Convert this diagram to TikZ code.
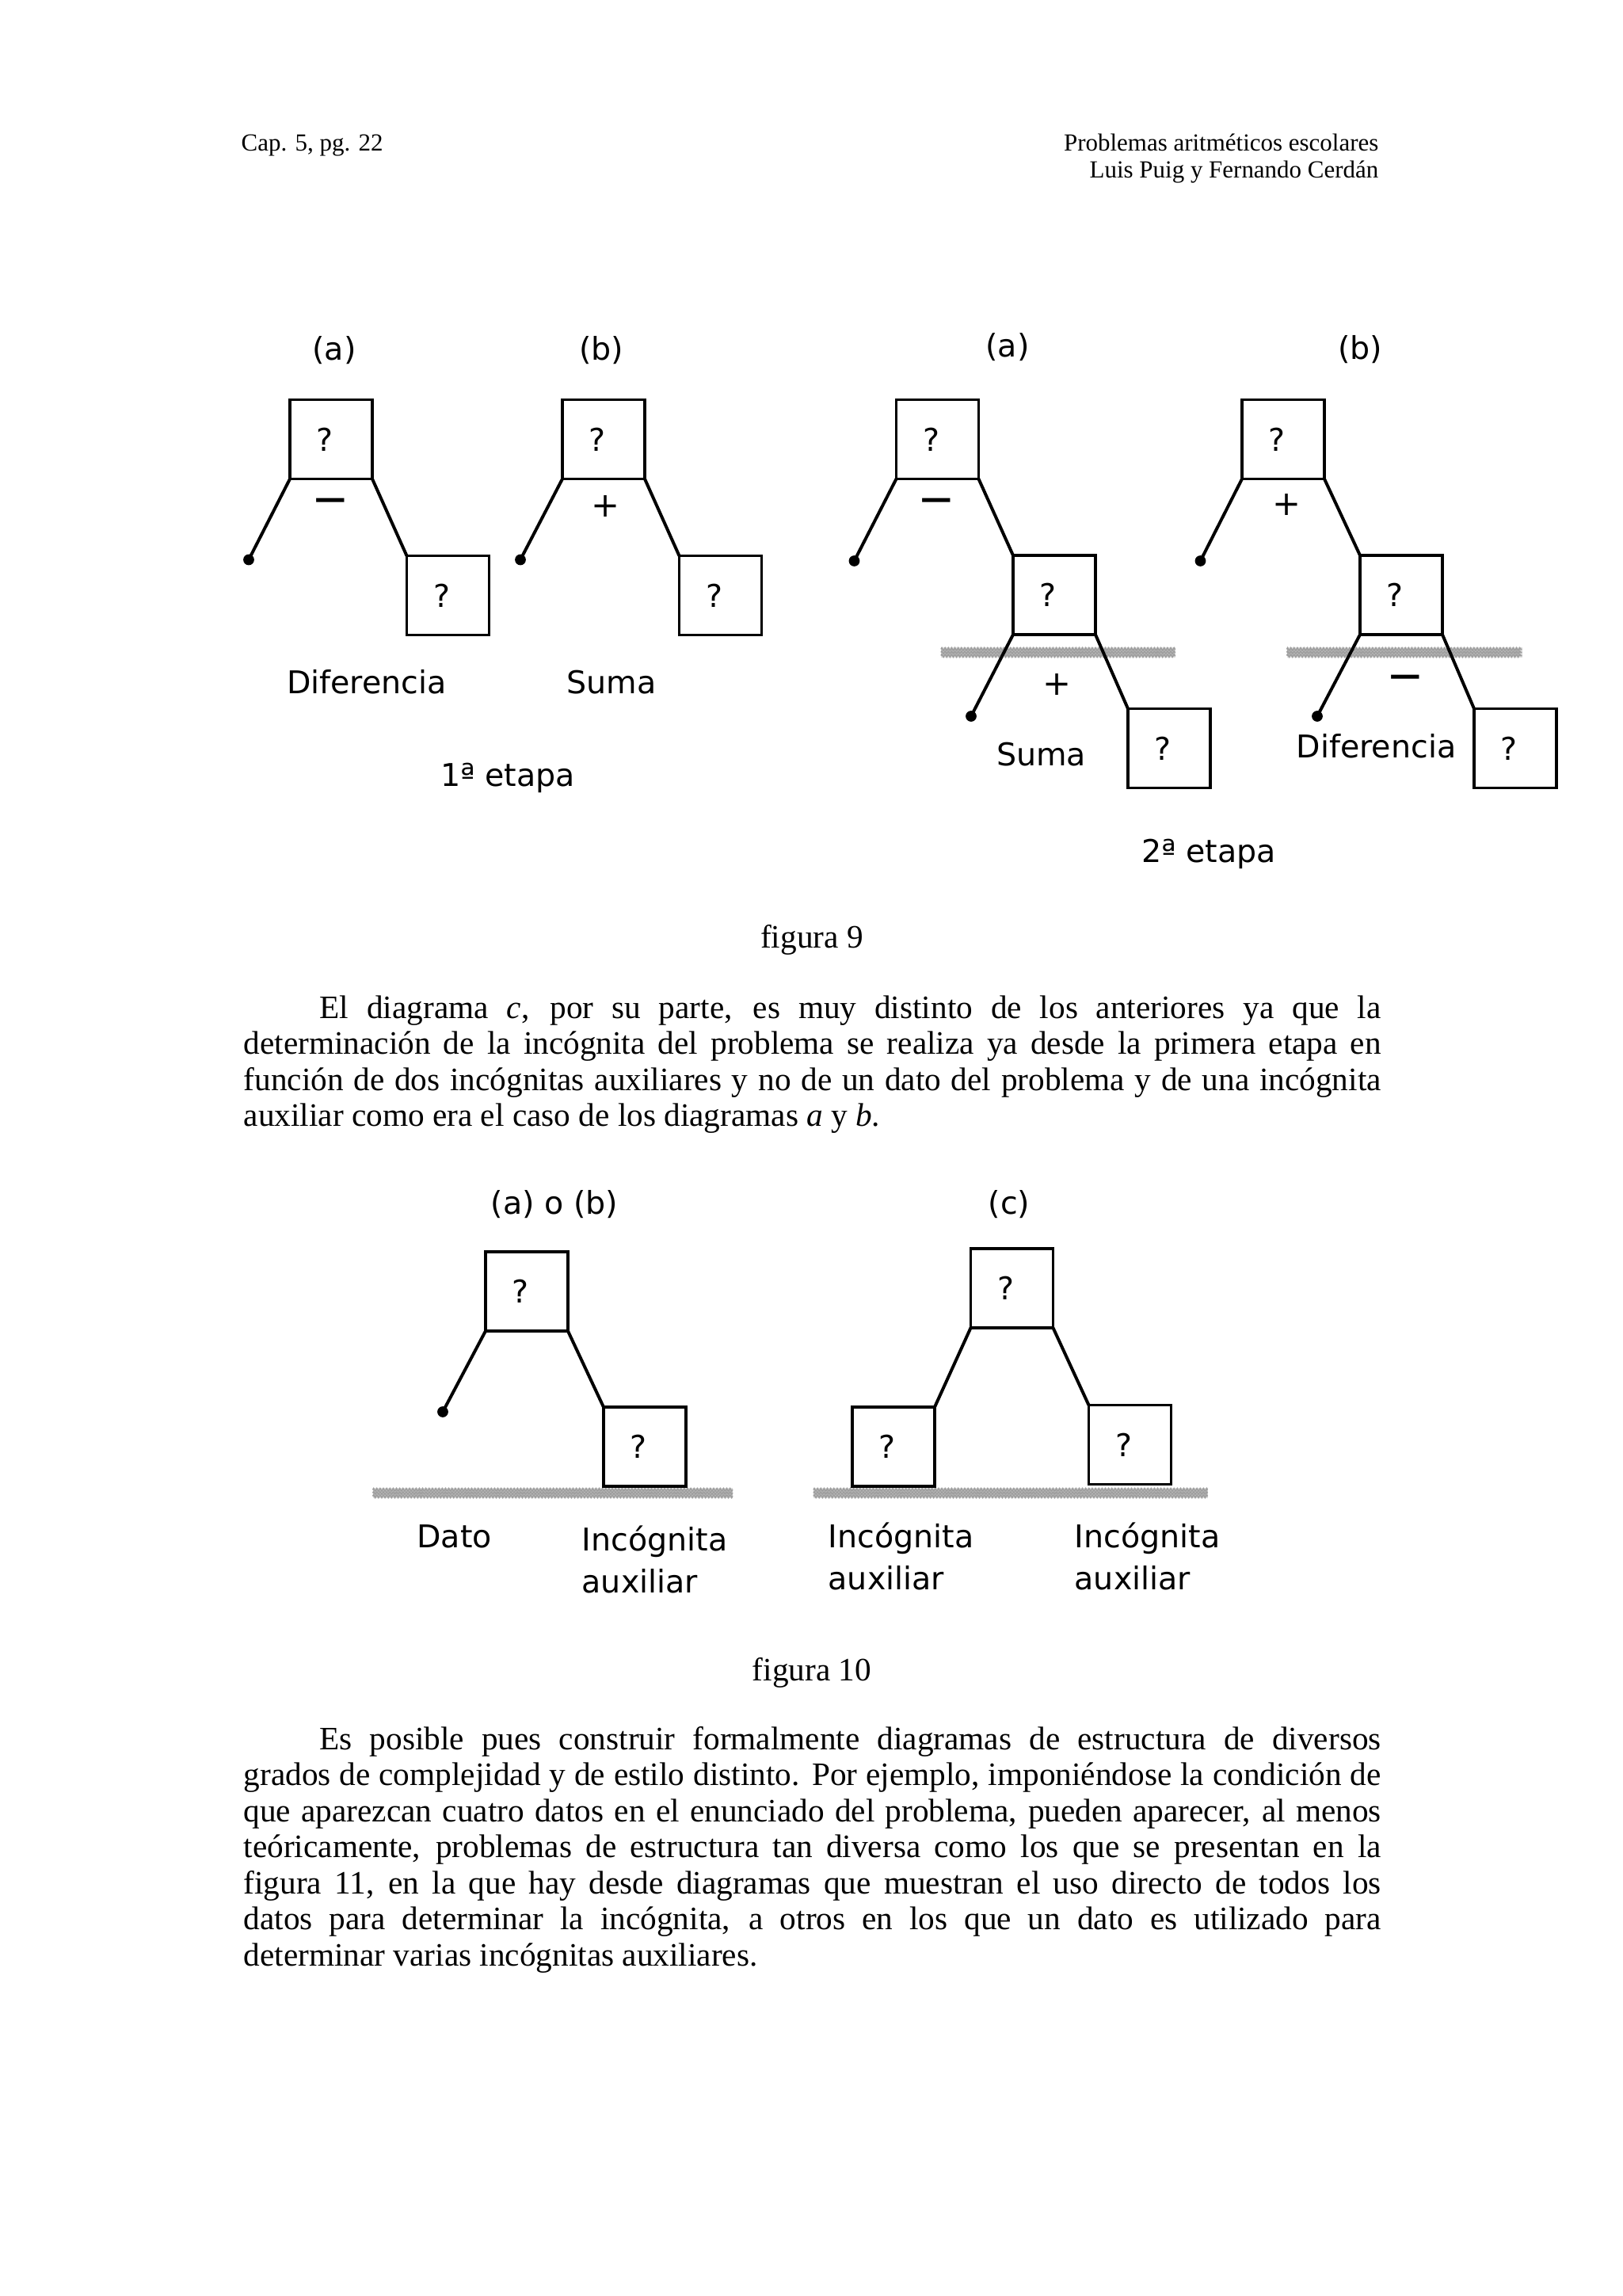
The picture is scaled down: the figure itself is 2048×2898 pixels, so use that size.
\documentclass[tikz,border=0pt]{standalone}
\usepackage{fontspec}
\setmainfont{Liberation Serif}
\newfontfamily\diagfont{DejaVu Sans}
\usetikzlibrary{decorations.pathmorphing}
\newcommand\groundbar[3]{%
  \fill[gray!25] (#1,#3) rectangle (#2,#3+13);
  \foreach \dy in {2.5,6.5,10.5}{%
    \draw[gray!75, line width=0.5pt, decorate, decoration={zigzag, segment length=1.2pt, amplitude=0.5pt}] (#1,#3+\dy) -- (#2,#3+\dy);}%
}
\newcommand\qm{?\kern4.5pt\relax}
\begin{document}
\begin{tikzpicture}[x=0.290664pt,y=-0.290664pt,
  qbox/.style={draw, line width=1pt, minimum width=30.2pt, minimum height=29pt, inner sep=0pt, outer sep=0pt, font=\diagfont\fontsize{11.5pt}{13pt}\selectfont},
  dotn/.style={circle, fill, inner sep=0pt, outer sep=0pt, minimum size=4pt},
  conn/.style={line width=1.15pt},
  lbl/.style={font=\diagfont\fontsize{11.5pt}{13pt}\selectfont, inner sep=0pt, anchor=base},
  lblw/.style={lbl, anchor=base west},
  plusn/.style={font=\diagfont\fontsize{12.5pt}{13pt}\selectfont, inner sep=0pt},
  minusn/.style={font=\diagfont\bfseries\fontsize{11.5pt}{12pt}\selectfont, inner sep=0pt},
  hdr/.style={font=\fontsize{9pt}{10pt}\selectfont, inner sep=0pt},
  bodyt/.style={font=\fontsize{12pt}{13.25pt}\selectfont, inner sep=0pt},
  para/.style={bodyt, text width=417.4pt, align=justify, anchor=base west}
]
\useasboundingbox (0,0) rectangle (2048,2898);
\fill[white] (0,0) rectangle (2048,2898);

% header
\node[hdr, anchor=base west] (cap) at (304,190) {Cap. 5, pg. 22};
\node[hdr, anchor=base east] (tit) at (1741,190) {Problemas aritméticos escolares};
\node[hdr, anchor=base east] (aut) at (1741,224) {Luis Puig y Fernando Cerdán};

% ---------- figura 9, 1a etapa ----------
\node[lbl] (la) at (422,454) {(a)};
\node[lbl] (lb) at (759,454) {(b)};
\node[qbox] (a1) at (418,554.5) {\qm};
\node[qbox] (a2) at (565.5,751.5) {\qm};
\node[dotn] (da) at (314,706.5) {};
\draw[conn] (a1.south west) -- (da.center);
\draw[conn] (a1.south east) -- (a2.north west);
\node[minusn] (ma) at (417,636) {—};
\node[qbox] (b1) at (762,554.5) {\qm};
\node[qbox] (b2) at (909.5,751.5) {\qm};
\node[dotn] (db) at (657,706.5) {};
\draw[conn] (b1.south west) -- (db.center);
\draw[conn] (b1.south east) -- (b2.north west);
\node[plusn] (pb) at (765,639) {+};
\node[lbl] (dif1) at (463,875) {Diferencia};
\node[lbl] (sum1) at (772,875) {Suma};
\node[lbl] (et1) at (641,992) {1ª etapa};

% ---------- figura 9, 2a etapa ----------
\node[lbl] (ra) at (1272,450) {(a)};
\node[lbl] (rb) at (1717,453) {(b)};
\groundbar{1188}{1484}{817}
\groundbar{1624.5}{1921.5}{817}
% (a)
\node[qbox] (A1) at (1183.5,554.5) {\qm};
\node[qbox] (A2) at (1331,751) {\qm};
\node[qbox] (A3) at (1476,944.5) {\qm};
\node[dotn] (dA1) at (1078.5,708) {};
\node[dotn] (dA2) at (1226,904) {};
\draw[conn] (A1.south west) -- (dA1.center);
\draw[conn] (A1.south east) -- (A2.north west);
\draw[conn] (A2.south west) -- (dA2.center);
\draw[conn] (A2.south east) -- (A3.north west);
\node[minusn] (mA) at (1182.5,636) {—};
\node[plusn] (pA) at (1335,864) {+};
\node[lbl] (sum2) at (1314.5,966) {Suma};
% (b)
\node[qbox] (B1) at (1620,554.5) {\qm};
\node[qbox] (B2) at (1769,751) {\qm};
\node[qbox] (B3) at (1913,944.5) {\qm};
\node[dotn] (dB1) at (1515.5,708) {};
\node[dotn] (dB2) at (1663,904) {};
\draw[conn] (B1.south west) -- (dB1.center);
\draw[conn] (B1.south east) -- (B2.north west);
\draw[conn] (B2.south west) -- (dB2.center);
\draw[conn] (B2.south east) -- (B3.north west);
\node[plusn] (pB) at (1624.5,637) {+};
\node[minusn] (mB) at (1774,859) {—};
\node[lbl] (dif2) at (1737.5,956.5) {Diferencia};
\node[lbl] (et2) at (1526,1088) {2ª etapa};

\node[bodyt, anchor=base] (fig9) at (1025,1196) {figura 9};

\node[para] (p1) at (307,1285) {\hspace*{27.9pt}El diagrama \textit{c}, por su parte, es muy distinto de los anteriores ya que la\linebreak determinación de la incógnita del problema se realiza ya desde la primera etapa en\linebreak función de dos incógnitas auxiliares y no de un dato del problema y de una incógnita\linebreak auxiliar como era el caso de los diagramas \textit{a} y \textit{b}.};

% ---------- figura 10 ----------
\node[lbl] (lab) at (700,1532) {(a) o (b)};
\node[lbl] (lc) at (1274,1532) {(c)};
\groundbar{470.6}{925.3}{1878}
\groundbar{1027}{1524.5}{1878}
\node[qbox] (L1) at (665,1630) {\qm};
\node[qbox] (L2) at (814,1826) {\qm};
\node[dotn] (dL) at (559,1782) {};
\draw[conn] (L1.south west) -- (dL.center);
\draw[conn] (L1.south east) -- (L2.north west);
\node[qbox] (C1) at (1277.5,1626) {\qm};
\node[qbox] (C2) at (1128,1826) {\qm};
\node[qbox] (C3) at (1426.5,1823.5) {\qm};
\draw[conn] (C1.south west) -- (C2.north east);
\draw[conn] (C1.south east) -- (C3.north west);
\node[lbl] (dato) at (573.5,1953) {Dato};
\node[lblw] (inc1) at (734,1957) {Incógnita};
\node[lblw] (aux1) at (734,2010) {auxiliar};
\node[lblw] (inc2) at (1045,1953) {Incógnita};
\node[lblw] (aux2) at (1045,2006) {auxiliar};
\node[lblw] (inc3) at (1356,1953) {Incógnita};
\node[lblw] (aux3) at (1356,2006) {auxiliar};

\node[bodyt, anchor=base] (fig10) at (1025,2121) {figura 10};

\node[para] (p2) at (307,2208) {\hspace*{27.9pt}Es posible pues construir formalmente diagramas de estructura de diversos\linebreak grados de complejidad y de estilo distinto. Por ejemplo, imponiéndose la condición de\linebreak que aparezcan cuatro datos en el enunciado del problema, pueden aparecer, al menos\linebreak teóricamente, problemas de estructura tan diversa como los que se presentan en la\linebreak figura 11, en la que hay desde diagramas que muestran el uso directo de todos los\linebreak datos para determinar la incógnita, a otros en los que un dato es utilizado para\linebreak determinar varias incógnitas auxiliares.};
\end{tikzpicture}
\end{document}
